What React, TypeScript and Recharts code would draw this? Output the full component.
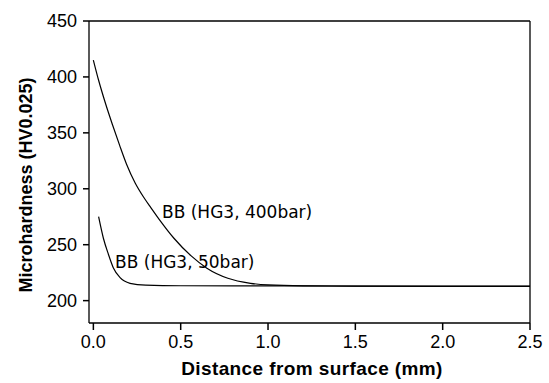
import { LineChart, Line, XAxis, YAxis, ReferenceLine, ReferenceDot } from 'recharts'

// distance (mm) and microhardness
const dist400 = [0, 0.03, 0.07, 0.11, 0.15, 0.19, 0.24, 0.29, 0.33, 0.38, 0.46, 0.56, 0.65, 0.77, 0.9, 1.0, 1.2, 1.5, 2.0, 2.5]
const hv400 = [415, 397, 376, 357, 339, 322, 305, 292, 283, 272, 256, 240, 229, 220, 215.5, 214, 213.2, 213, 212.8, 212.8]

const dist50 = [0.03, 0.057, 0.086, 0.114, 0.153, 0.21, 0.3, 0.5, 1.0, 1.5, 2.0, 2.5]
const hv50 = [275, 256, 241.5, 229.5, 220.5, 215.5, 213.8, 213.3, 213.2, 213, 213, 213]

const xMajor = [0, 0.5, 1.0, 1.5, 2.0, 2.5]
const xMinor = [0.25, 0.75, 1.25, 1.75, 2.25]
const yMajor = [200, 250, 300, 350, 400, 450]
const yMinor = [225, 275, 325, 375, 425]

const label400 = 'BB (HG3, 400bar)'
const label50 = 'BB (HG3, 50bar)'

const data400 = dist400.map((x, i) => ({ x, hv: hv400[i] }))
const data50 = dist50.map((x, i) => ({ x, hv: hv50[i] }))

const tickFont = '"Liberation Sans", Arial, sans-serif'
const xDomain = [-0.025, 2.5]
const yDomain = [180, 450]
const axisStroke = { stroke: '#000', strokeWidth: 1.3 }
const tickStroke = { stroke: '#000', strokeWidth: 1.5 }

const XTick = (props: any) => {
  const { x, y, payload } = props
  return (
    <text x={x} y={y + 18} textAnchor="middle" fontSize={18} fontFamily={tickFont} fill="#000">
      {payload.value.toFixed(1)}
    </text>
  )
}

const YTick = (props: any) => {
  const { x, y, payload } = props
  return (
    <text x={x - 6} y={y + 6} textAnchor="end" fontSize={18} fontFamily={tickFont} fill="#000">
      {payload.value}
    </text>
  )
}

const annot = (text: string) => (props: any) => {
  const { x, y } = props.viewBox
  return (
    <text x={x} y={y} fontSize={17} fontFamily='"DejaVu Sans", sans-serif' fill="#000">
      {text}
    </text>
  )
}

export default function App() {
  return (
    <div style={{ position: 'absolute', left: 0, top: 0, background: '#fff' }}>
      <LineChart width={549} height={383} margin={{ top: 21, right: 19, bottom: 0, left: 0 }}>
        {/* minor ticks, sitting right on the plot edge */}
        <XAxis
          xAxisId="minor"
          type="number"
          domain={xDomain}
          ticks={xMinor}
          interval={0}
          allowDataOverflow
          height={0}
          tickSize={4}
          tick={false}
          tickLine={tickStroke}
          axisLine={false}
        />
        <YAxis
          yAxisId="minor"
          type="number"
          domain={yDomain}
          ticks={yMinor}
          interval={0}
          allowDataOverflow
          width={0}
          tickSize={3.5}
          tick={false}
          tickLine={tickStroke}
          axisLine={false}
        />
        <XAxis
          type="number"
          dataKey="x"
          domain={xDomain}
          ticks={xMajor}
          interval={0}
          allowDataOverflow
          height={60}
          tickSize={7}
          tickMargin={0}
          tickLine={tickStroke}
          tick={<XTick />}
          axisLine={axisStroke}
          label={() => (
            <text x={312} y={375} textAnchor="middle" fontSize={19} letterSpacing={0.4} fontWeight="bold" fontFamily={tickFont} fill="#000">
              Distance from surface (mm)
            </text>
          )}
        />
        <YAxis
          type="number"
          domain={yDomain}
          ticks={yMajor}
          interval={0}
          allowDataOverflow
          width={89}
          tickSize={6}
          tickMargin={0}
          tickLine={tickStroke}
          tick={<YTick />}
          axisLine={axisStroke}
          label={() => (
            <text
              x={32}
              y={185}
              transform="rotate(-90 32 185)"
              textAnchor="middle"
              fontSize={18}
              fontWeight="bold"
              fontFamily={tickFont}
              fill="#000"
            >
              Microhardness (HV0.025)
            </text>
          )}
        />
        <ReferenceLine y={450} stroke="#000" strokeWidth={1.3} />
        <ReferenceLine x={2.5} stroke="#000" strokeWidth={1.3} />
        <Line data={data400} dataKey="hv" type="monotone" stroke="#000" strokeWidth={1.2} dot={false} isAnimationActive={false} />
        <Line data={data50} dataKey="hv" type="monotone" stroke="#000" strokeWidth={1.2} dot={false} isAnimationActive={false} />
        <ReferenceDot x={0.393} y={273.5} r={0} stroke="none" fill="none" label={annot(label400)} />
        <ReferenceDot x={0.124} y={229.6} r={0} stroke="none" fill="none" label={annot(label50)} />
      </LineChart>
    </div>
  )
}
